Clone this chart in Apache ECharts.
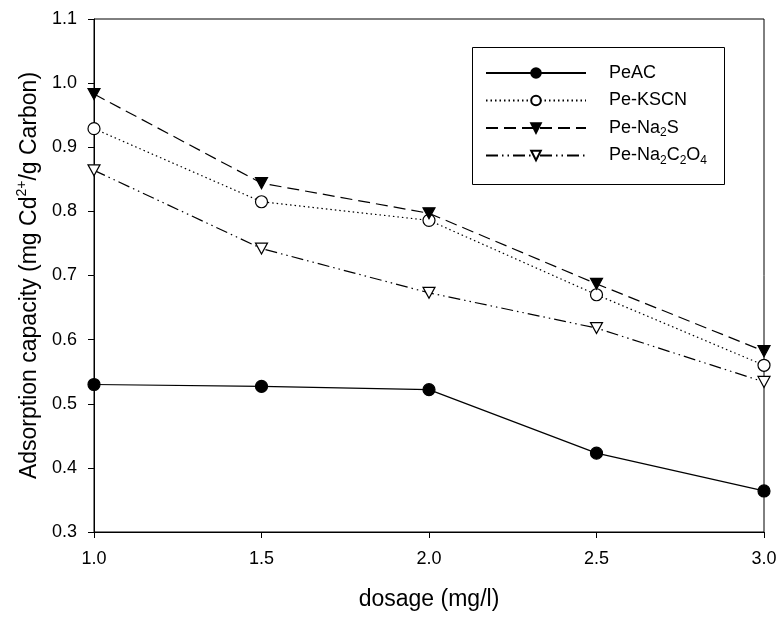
<!DOCTYPE html>
<html>
<head>
<meta charset="utf-8">
<script src="https://cdn.jsdelivr.net/npm/echarts@6/dist/echarts.min.js"></script>
<style>html,body{margin:0;padding:0;background:#fff}#c{width:780px;height:618px}</style>
</head>
<body>
<div id="c"></div>
<script>
const dosage = [1.0, 1.5, 2.0, 2.5, 3.0];
const peAC = [0.530, 0.527, 0.522, 0.423, 0.364];
const peKSCN = [0.929, 0.815, 0.786, 0.670, 0.560];
const peNa2S = [0.983, 0.844, 0.797, 0.687, 0.582];
const peNa2C2O4 = [0.864, 0.742, 0.673, 0.618, 0.534];
const xTicks = [1.0, 1.5, 2.0, 2.5, 3.0];
const yTicks = [0.3, 0.4, 0.5, 0.6, 0.7, 0.8, 0.9, 1.0, 1.1];

const FONT = '"Liberation Sans", Arial, sans-serif';
const legendLabels = {
  'PeAC': 'PeAC',
  'Pe-KSCN': 'Pe-KSCN',
  'Pe-Na2S': 'Pe-Na{sub|2}S',
  'Pe-Na2C2O4': 'Pe-Na{sub|2}C{sub|2}O{sub|4}'
};
const triDown = 'path://M0,0 L12,0 L6,11 Z';

function pts(arr) { return dosage.map((d, i) => [d, arr[i]]); }

function mk(name, data, symbol, fill, lineType, size) {
  return {
    name: name,
    type: 'line',
    data: pts(data),
    symbol: symbol,
    symbolSize: size,
    showSymbol: true,
    clip: false,
    lineStyle: { color: '#000', width: 1.2, type: lineType },
    itemStyle: { color: fill, borderColor: '#000', borderWidth: 1.2 },
    emphasis: { disabled: true },
    animation: false
  };
}

const chart = echarts.init(document.getElementById('c'), null, { renderer: 'canvas' });
chart.setOption({
  backgroundColor: '#fff',
  animation: false,
  grid: { left: 94, right: 16, top: 19, bottom: 86, show: true, borderColor: '#000', borderWidth: 1, backgroundColor: 'transparent' },
  graphic: [{
    type: 'rect', left: 472, top: 47, z: 5,
    shape: { width: 252, height: 137 },
    style: { fill: '#fff', stroke: '#000', lineWidth: 1 }
  }],
  xAxis: {
    type: 'value', min: 1.0, max: 3.0, interval: 0.5,
    name: 'dosage (mg/l)', nameLocation: 'middle', nameGap: 56,
    nameTextStyle: { fontFamily: FONT, fontSize: 23, color: '#000' },
    axisLine: { lineStyle: { color: '#000', width: 1 } },
    axisTick: { show: true, length: 6, lineStyle: { color: '#000' } },
    axisLabel: { fontFamily: FONT, fontSize: 18, color: '#000', margin: 18,
      formatter: v => xTicks.includes(+v.toFixed(1)) ? v.toFixed(1) : '' },
    splitLine: { show: false }
  },
  yAxis: {
    type: 'value', min: 0.3, max: 1.1, interval: 0.1,
    name: '{b|Adsorption capacity (mg Cd}{sup|2+}{b|/g Carbon)}',
    nameLocation: 'middle', nameGap: 50,
    nameTextStyle: { fontFamily: FONT, fontSize: 23, color: '#000',
      rich: {
        b: { fontFamily: FONT, fontSize: 23, color: '#000', lineHeight: 28 },
        sup: { fontFamily: FONT, fontSize: 14, color: '#000', lineHeight: 14, verticalAlign: 'top' }
      } },
    axisLine: { lineStyle: { color: '#000', width: 1 } },
    axisTick: { show: true, length: 6, lineStyle: { color: '#000' } },
    axisLabel: { fontFamily: FONT, fontSize: 18, color: '#000', margin: 17,
      formatter: v => yTicks.includes(+v.toFixed(1)) ? v.toFixed(1) : '' },
    splitLine: { show: false }
  },
  legend: {
    orient: 'vertical', left: 485, top: 62, z: 10,
    padding: 0,
    itemWidth: 100, itemHeight: 12, itemGap: 5.5,
    data: ['PeAC', 'Pe-KSCN', 'Pe-Na2S', 'Pe-Na2C2O4'],
    formatter: n => legendLabels[n],
    textStyle: { fontFamily: FONT, fontSize: 18, color: '#000', lineHeight: 22, padding: [0, 0, 0, 18],
      rich: {
        sub: { fontFamily: FONT, fontSize: 12, color: '#000', lineHeight: 12, verticalAlign: 'bottom' }
      } },
    selectedMode: false
  },
  series: [
    mk('PeAC', peAC, 'circle', '#000', 'solid', 12),
    mk('Pe-KSCN', peKSCN, 'circle', '#fff', [1.5, 3], 12),
    mk('Pe-Na2S', peNa2S, triDown, '#000', [12, 6], [12, 11]),
    mk('Pe-Na2C2O4', peNa2C2O4, triDown, '#fff', [12, 4, 1.5, 4, 1.5, 4], [12, 11])
  ]
});
</script>
</body>
</html>
